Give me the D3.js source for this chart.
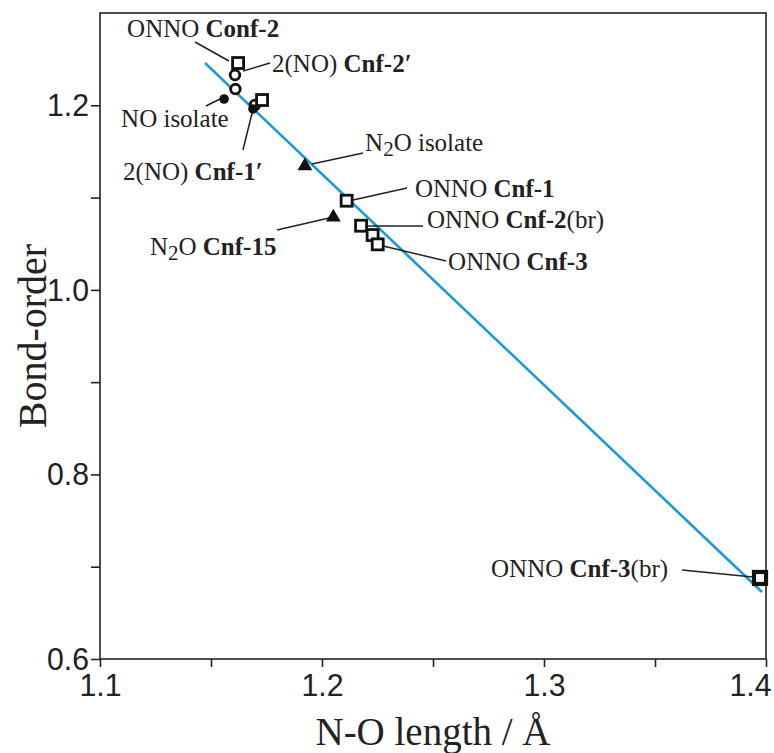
<!DOCTYPE html>
<html>
<head>
<meta charset="utf-8">
<script src="https://cdn.jsdelivr.net/npm/d3@7"></script>
<style>
  body { margin: 0; background: #fff; }
  svg { display: block; }
</style>
</head>
<body>
<svg id="chart"></svg>
<script>
// N-O length (Å) vs bond-order
const squareX = [1.1622, 1.1730, 1.2111, 1.2176, 1.2228, 1.2251, 1.3973]
const squareY = [1.2458, 1.2057, 1.0966, 1.0695, 1.0594, 1.0493, 0.6878]
const circleX = [1.1608, 1.1610, 1.1698]
const circleY = [1.2328, 1.2176, 1.2003]
const dotX = [1.1559, 1.1689]
const dotY = [1.2068, 1.1960]
const triangleX = [1.1923, 1.2051]
const triangleY = [1.1342, 1.0786]

// fitted straight line, two ends
const fitX = [1.1473, 1.3982]
const fitY = [1.2458, 0.6726]

const xTicks = [1.1, 1.2, 1.3, 1.4]
const xMinor = [1.15, 1.25, 1.35]
const yTicks = [0.6, 0.8, 1.0, 1.2]
const yMinor = [0.7, 0.9, 1.1]

// labels: [plain, bold, tail]  text anchor (data units)  leader (data units)
const labelText = [
  ["ONNO ", "Conf-2", ""],
  ["2(NO) ", "Cnf-2\u2032", ""],
  ["NO isolate", "", ""],
  ["2(NO) ", "Cnf-1\u2032", ""],
  ["N|2|O isolate", "", ""],
  ["ONNO ", "Cnf-1", ""],
  ["N|2|O ", "Cnf-15", ""],
  ["ONNO ", "Cnf-2", "(br)"],
  ["ONNO ", "Cnf-3", ""],
  ["ONNO ", "Cnf-3", "(br)"]
]
const labelX = [1.1122, 1.1775, 1.1095, 1.1104, 1.2194, 1.2419, 1.1225, 1.2473, 1.2568, 1.3559]
const labelY = [1.2740, 1.2360, 1.1764, 1.1190, 1.1504, 1.1006, 1.0378, 1.0670, 1.0215, 0.6889]
const labelEnd = [false, false, false, false, false, false, false, false, false, true]
const leadX1 = [1.1428, 1.1644, 1.1477, 1.1644, 1.1955, 1.2140, 1.1797, 1.2207, 1.2275, 1.3622]
const leadY1 = [1.2686, 1.2370, 1.1992, 1.1515, 1.1364, 1.0973, 1.0648, 1.0692, 1.0475, 0.6964]
const leadX2 = [1.1581, 1.1766, 1.1541, 1.1685, 1.2185, 1.2383, 1.2032, 1.2455, 1.2559, 1.3941]
const leadY2 = [1.2480, 1.2458, 1.2068, 1.1916, 1.1483, 1.1103, 1.0778, 1.0692, 1.0313, 0.6889]

const width = 774
const height = 753
const margin = { top: 13, right: 8, bottom: 94, left: 100 }

const svg = d3.select("#chart").attr("width", width).attr("height", height)

const x = d3.scaleLinear().domain([1.1, 1.4]).range([margin.left, width - margin.right])
const y = d3.scaleLinear().domain([0.6, 1.3]).range([height - margin.bottom, margin.top])

const serif = "'Liberation Serif', 'Times New Roman', serif"
const sans = "'Liberation Sans', Arial, sans-serif"

// frame
svg.append("rect")
  .attr("x", x(1.1))
  .attr("y", y(1.3))
  .attr("width", x(1.4) - x(1.1))
  .attr("height", y(0.6) - y(1.3))
  .attr("fill", "none")
  .attr("stroke", "#222")
  .attr("stroke-width", 1.6)

// axes
const xAxis = svg.append("g")
  .attr("transform", `translate(0,${y(0.6)})`)
  .call(d3.axisBottom(x).tickValues(xTicks).tickSize(8).tickPadding(6).tickFormat(d3.format(".1f")))
svg.append("g")
  .attr("transform", `translate(0,${y(0.6)})`)
  .call(d3.axisBottom(x).tickValues(xMinor).tickSize(8).tickFormat(""))
const yAxis = svg.append("g")
  .attr("transform", `translate(${x(1.1)},0)`)
  .call(d3.axisLeft(y).tickValues(yTicks).tickSize(9).tickPadding(2).tickFormat(d3.format(".1f")))
svg.append("g")
  .attr("transform", `translate(${x(1.1)},0)`)
  .call(d3.axisLeft(y).tickValues(yMinor).tickSize(9).tickFormat(""))

svg.selectAll(".domain").remove()
svg.selectAll(".tick line").attr("stroke", "#222").attr("stroke-width", 1.6)
svg.selectAll(".tick text")
  .attr("font-family", sans)
  .attr("font-size", 32)
  .attr("fill", "#222")
  .attr("textLength", 42)
  .attr("lengthAdjust", "spacingAndGlyphs")
xAxis.selectAll(".tick text").attr("dy", "0.72em")
// last x label sits flush with the right edge
xAxis.selectAll(".tick text")
  .filter((d) => d === 1.4)
  .attr("text-anchor", "end")
  .attr("x", 5)

// axis titles
svg.append("text")
  .attr("x", (x(1.1) + x(1.4)) / 2)
  .attr("y", 745)
  .attr("text-anchor", "middle")
  .attr("font-family", serif)
  .attr("font-size", 39)
  .attr("fill", "#222")
  .text("N-O length / \u00c5")

svg.append("text")
  .attr("transform", `translate(46,${y(0.95)}) rotate(-90)`)
  .attr("text-anchor", "middle")
  .attr("font-family", serif)
  .attr("font-size", 40)
  .attr("fill", "#222")
  .text("Bond-order")

// fit line
svg.append("line")
  .attr("x1", x(fitX[0]))
  .attr("y1", y(fitY[0]))
  .attr("x2", x(fitX[1]))
  .attr("y2", y(fitY[1]))
  .attr("stroke", "#1a9ad6")
  .attr("stroke-width", 2.6)

// leaders
svg.append("g")
  .selectAll("line")
  .data(d3.range(labelText.length))
  .enter()
  .append("line")
  .attr("x1", (i) => x(leadX1[i]))
  .attr("y1", (i) => y(leadY1[i]))
  .attr("x2", (i) => x(leadX2[i]))
  .attr("y2", (i) => y(leadY2[i]))
  .attr("stroke", "#222")
  .attr("stroke-width", 1.5)

// markers
const markers = svg.append("g")

markers.selectAll("circle.open")
  .data(d3.zip(circleX, circleY))
  .enter()
  .append("circle")
  .attr("cx", (d) => x(d[0]))
  .attr("cy", (d) => y(d[1]))
  .attr("r", 4.8)
  .attr("fill", "#fff")
  .attr("stroke", "#111")
  .attr("stroke-width", 2.8)

markers.selectAll("circle.dot")
  .data(d3.zip(dotX, dotY))
  .enter()
  .append("circle")
  .attr("cx", (d) => x(d[0]))
  .attr("cy", (d) => y(d[1]))
  .attr("r", 4.8)
  .attr("fill", "#111")

markers.selectAll("rect")
  .data(d3.zip(squareX, squareY))
  .enter()
  .append("rect")
  .attr("x", (d, i) => x(d[0]) - (i === 6 ? 6 : 5.5))
  .attr("y", (d, i) => y(d[1]) - (i === 6 ? 6 : 5.5))
  .attr("width", (d, i) => (i === 6 ? 12 : 11))
  .attr("height", (d, i) => (i === 6 ? 12 : 11))
  .attr("fill", "#fff")
  .attr("stroke", "#111")
  .attr("stroke-width", (d, i) => (i === 6 ? 4.2 : 2.8))

const tri = d3.symbol().type(d3.symbolTriangle).size(95)
markers.selectAll("path")
  .data(d3.zip(triangleX, triangleY))
  .enter()
  .append("path")
  .attr("transform", (d) => `translate(${x(d[0])},${y(d[1])})`)
  .attr("d", tri)
  .attr("fill", "#111")

// labels
const labels = svg.append("g")
  .attr("font-family", serif)
  .attr("font-size", 25)
  .attr("fill", "#222")

labelText.forEach((parts, i) => {
  const t = labels.append("text")
    .attr("x", x(labelX[i]))
    .attr("y", y(labelY[i]))
    .attr("text-anchor", labelEnd[i] ? "end" : "start")
  // "|" marks a subscript in the plain part
  const plain = parts[0].split("|")
  plain.forEach((s, k) => {
    if (k === 1) {
      t.append("tspan").attr("dy", 5).attr("font-size", 21).text(s)
    } else if (k === 2) {
      t.append("tspan").attr("dy", -5).text(s)
    } else {
      t.append("tspan").text(s)
    }
  })
  if (parts[1]) t.append("tspan").attr("font-weight", "bold").text(parts[1])
  if (parts[2]) t.append("tspan").text(parts[2])
})
</script>
</body>
</html>
